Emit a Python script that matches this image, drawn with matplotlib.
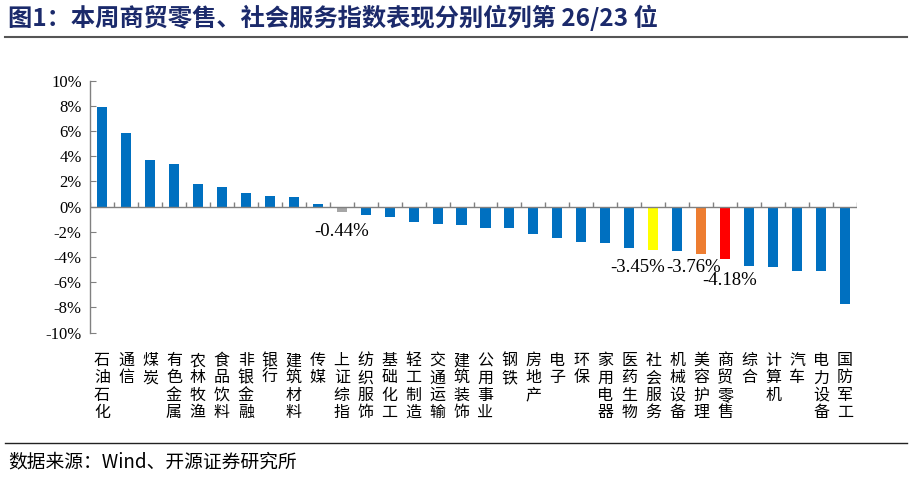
import numpy as np
import matplotlib.pyplot as plt
from matplotlib.lines import Line2D

plt.rcParams['font.family'] = ['Liberation Serif', 'Noto Sans CJK SC', 'DejaVu Sans']
plt.rcParams['axes.unicode_minus'] = False

# 行业名称（按涨跌幅排序）
categories = ['石油石化', '通信', '煤炭', '有色金属', '农林牧渔', '食品饮料', '非银金融', '银行',
              '建筑材料', '传媒', '上证综指', '纺织服饰', '基础化工', '轻工制造', '交通运输',
              '建筑装饰', '公用事业', '钢铁', '房地产', '电子', '环保', '家用电器', '医药生物',
              '社会服务', '机械设备', '美容护理', '商贸零售', '综合', '计算机', '汽车',
              '电力设备', '国防军工']
# 本周涨跌幅（%）
values = [7.94, 5.82, 3.70, 3.39, 1.83, 1.56, 1.06, 0.87, 0.77, 0.21, -0.44, -0.69, -0.84,
          -1.24, -1.40, -1.43, -1.67, -1.69, -2.19, -2.51, -2.78, -2.87, -3.30, -3.45, -3.52,
          -3.76, -4.18, -4.68, -4.79, -5.10, -5.08, -7.70]
# 需要标注数值的行业
highlight = {'上证综指': '#A6A6A6', '社会服务': '#FFFF00', '美容护理': '#ED7D31', '商贸零售': '#FF0000'}
yticks = [10, 8, 6, 4, 2, 0, -2, -4, -6, -8, -10]

blue = '#0070C0'
colors = [highlight.get(c, blue) for c in categories]
x = np.arange(len(categories))

fig = plt.figure(figsize=(9.12, 4.8), dpi=100)
ax = fig.add_axes([0.0987, 0.3069, 0.841, 0.525])

ax.bar(x, values, width=0.42, color=colors, zorder=3)

ax.set_xlim(-0.5, len(categories) - 0.5)
ax.set_ylim(-10, 10)

# 零轴和分隔刻度
ax.axhline(0, color='#808080', lw=1.0, zorder=4)
ax.vlines(np.arange(len(categories) + 1) - 0.5, 0, 0.35, color='#808080', lw=1.0, zorder=4)

for s in ['top', 'right', 'bottom']:
    ax.spines[s].set_visible(False)
ax.spines['left'].set_color('#808080')
ax.spines['left'].set_linewidth(1.0)

ax.set_yticks(yticks)
ax.set_yticklabels([f'{v}%' for v in yticks], fontsize=12, family='Liberation Serif')
ax.tick_params(axis='y', direction='in', length=4, color='#808080', pad=6)

ax.set_xticks(x)
ax.set_xticklabels(['\n'.join(c) for c in categories], fontsize=11.5,
                   family=['Noto Sans CJK SC'], linespacing=1.02, va='top')
ax.tick_params(axis='x', length=0, pad=14)

# 数据标签
label_pos = {'上证综指': (0, -2.0), '社会服务': (-0.67, -4.8), '美容护理': (-0.3, -4.8),
             '商贸零售': (0.17, -5.85)}
for name, (dx, ty) in label_pos.items():
    i = categories.index(name)
    ax.text(i + dx, ty, f'{values[i]:.2f}%', ha='center', va='center', fontsize=13.5,
            family='Liberation Serif', color='black', zorder=5)

# 标题与来源
fig.text(0.009, 0.962, '图1：本周商贸零售、社会服务指数表现分别位列第 26/23 位', fontsize=17.5,
         fontweight='bold', color='#1B2A6B', va='center', family=['Noto Sans CJK SC'])
fig.add_artist(Line2D([0.005, 0.995], [0.923, 0.923], color='#555555', lw=1.5))
fig.add_artist(Line2D([0.005, 0.995], [0.077, 0.077], color='#222222', lw=1.0))
fig.text(0.009, 0.037, '数据来源：Wind、开源证券研究所', fontsize=13.5, va='center',
         family=['Noto Sans CJK SC'])

plt.savefig('out.png', dpi=100)
